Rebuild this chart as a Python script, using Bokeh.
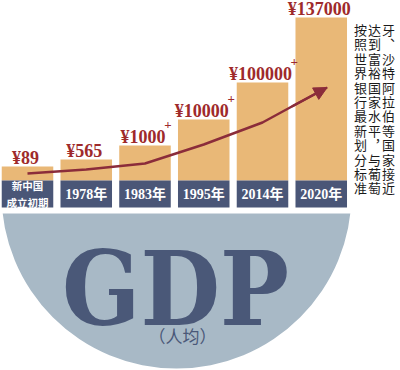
from bokeh.plotting import figure
from bokeh.models import Range1d, Arrow, NormalHead, ColumnDataSource
from bokeh.core.properties import value
from bokeh.embed import file_html
from bokeh.resources import INLINE

# ---- data ----
categories = ["新中国\n成立初期", "1978年", "1983年", "1995年", "2014年", "2020年"]
gdp_labels = ["¥89", "¥565", "¥1000", "¥10000", "¥100000", "¥137000"]
gdp_plus = ["", "", "+", "+", "+", ""]
bar_height = [14, 21, 35, 61, 98, 163]          # illustrative bar heights (as drawn)
trend_x = [0, 1, 2, 3, 4, 4.5, 5.1]
trend_y = [7, 11, 17, 36, 58, 74, 93]
note_text = "按照世界银行最新划分标准达到富裕国家水平︐与葡萄牙︑沙特阿拉伯等国家接近"
title_text = "GDP"
subtitle_text = "（人均）"

# ---- colours ----
ORANGE = "#e9b877"
NAVY = "#4a5677"
DISC = "#a8b9c6"
RED = "#9e2a2b"
TITLE = "#4a5878"

W, H = 400, 370
X0, DX = 27.0, 58.75          # pixel centre of first bar, pixel step between bars
BASE = 180.0                  # pixel row of the bar baseline


def dx(px):
    return (px - X0) / DX


def dy(py):
    return BASE - py


p = figure(width=W, height=H, output_backend="svg", toolbar_location=None,
           x_range=Range1d(dx(0), dx(W)), y_range=Range1d(dy(H), dy(0)),
           min_border=0, outline_line_color=None, background_fill_color="white",
           border_fill_color="white")
p.axis.visible = False
p.grid.visible = False

# big disc, cut at the top
p.ellipse(x=[dx(176)], y=[dy(193)], width=350 / DX, height=350,
          fill_color=DISC, line_color=None)
p.quad(left=[dx(0)], right=[dx(W)], bottom=[dy(213)], top=[dy(0)],
       fill_color="white", line_color=None)

idx = list(range(len(categories)))
BW = 0.877

src = ColumnDataSource(dict(
    x=idx, h=bar_height, lab=gdp_labels, plus=gdp_plus,
    poff=[len(l) * 4.4 + 1 for l in gdp_labels],
))

p.vbar(x="x", top="h", bottom=0, width=BW, source=src,
       fill_color=ORANGE, line_color=None)
p.vbar(x=idx, top=0, bottom=-27, width=BW, fill_color=NAVY, line_color=None)

# category labels
p.text(x=idx[1:], y=[-13.5] * (len(idx) - 1), text=categories[1:],
       text_align="center", text_baseline="middle", text_color="white",
       text_font=value("Liberation Serif, Noto Sans CJK SC"), text_font_style="bold",
       text_font_size="14px")
p.text(x=[idx[0]], y=[-13.5], text=[categories[0]],
       text_align="center", text_baseline="middle", text_color="white",
       text_font=value("Noto Sans CJK SC"), text_font_style="bold",
       text_font_size="10.5px", text_line_height=1.15)

# value labels
p.text(x="x", y="h", text="lab", source=src, y_offset=-9, x_offset=-2,
       text_align="center", text_baseline="alphabetic", text_color=RED,
       text_font=value("Liberation Serif"), text_font_style="bold",
       text_font_size="18px")
p.text(x="x", y="h", text="plus", source=src, x_offset="poff", y_offset=-21,
       text_align="center", text_baseline="middle", text_color=RED,
       text_font=value("Liberation Serif"), text_font_style="bold",
       text_font_size="13px")

# trend arrow
ARROW = "#8b2c3a"
p.line(x=trend_x, y=trend_y, line_color=ARROW, line_width=2.5)
p.add_layout(Arrow(end=NormalHead(size=13, fill_color=ARROW, line_color=ARROW),
                   x_start=trend_x[-2], y_start=trend_y[-2],
                   x_end=trend_x[-1], y_end=trend_y[-1],
                   line_color=ARROW, line_width=2.5))

# vertical note text (columns read right-to-left)
cols = [note_text[i:i + 12] for i in range(0, len(note_text), 12)]
col_px = [360, 374, 388]
vx, vy, vt = [], [], []
for c, s in enumerate(cols):
    for r, ch in enumerate(s):
        vx.append(dx(col_px[c]))
        vy.append(dy(29 + 14.4 * r))
        vt.append(ch)
p.text(x=vx, y=vy, text=vt, text_align="center", text_baseline="middle",
       text_color="#1a1a1a", text_font=value("Noto Sans CJK SC"),
       text_font_size="13px")

# title
p.text(x=[dx(175)], y=[dy(288)], text=[title_text], text_align="center",
       text_baseline="alphabetic", text_color=TITLE,
       text_font=value("DejaVu Serif Condensed"), text_font_style="bold",
       text_font_size="102px")
p.text(x=[dx(182)], y=[dy(335)], text=[subtitle_text], text_align="center",
       text_baseline="middle", text_color=TITLE,
       text_font=value("Noto Sans CJK SC"), text_font_size="17px")

open("out.html", "w").write(file_html(p, INLINE))
